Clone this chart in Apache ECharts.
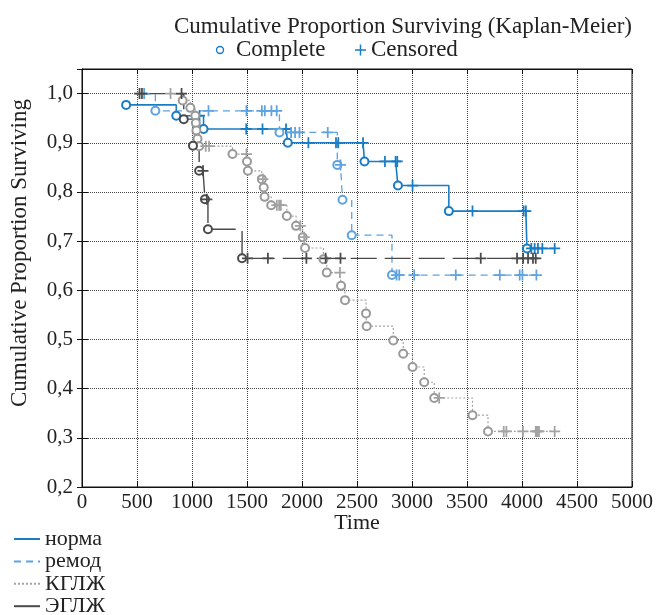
<!DOCTYPE html>
<html>
<head>
<meta charset="utf-8">
<script src="https://cdn.jsdelivr.net/npm/echarts@6/dist/echarts.min.js"></script>
<style>
  html, body { margin: 0; padding: 0; background: #fff; }
  #chart { width: 660px; height: 615px; }
</style>
</head>
<body>
<div id="chart"></div>
<script>
// [time, proportion surviving, 1 = complete (circle) / 0 = censored (+)]
var normaData = [
  [401, 0.977, 1], [857, 0.955, 1], [1068, 0.955, 0], [1105, 0.928, 1],
  [1493, 0.928, 0], [1641, 0.928, 0], [1855, 0.928, 0], [1871, 0.900, 1],
  [2058, 0.900, 0], [2309, 0.900, 0], [2330, 0.900, 0], [2555, 0.900, 0],
  [2568, 0.862, 1], [2754, 0.862, 0], [2851, 0.862, 0], [2866, 0.862, 0],
  [2872, 0.813, 1], [3005, 0.813, 0], [3335, 0.761, 1], [3550, 0.761, 0],
  [4015, 0.761, 0], [4035, 0.761, 0], [4045, 0.685, 1], [4085, 0.685, 0],
  [4115, 0.685, 0], [4145, 0.685, 0], [4185, 0.685, 0], [4297, 0.685, 0]
];
var remodData = [
  [565, 1.0, 0], [667, 0.965, 1], [1150, 0.965, 0], [1495, 0.965, 0],
  [1635, 0.965, 0], [1662, 0.965, 0], [1722, 0.965, 0], [1770, 0.965, 0],
  [1795, 0.921, 1], [1901, 0.921, 0], [1937, 0.921, 0], [1977, 0.921, 0],
  [2234, 0.921, 0], [2321, 0.855, 1], [2350, 0.855, 0], [2368, 0.784, 1],
  [2452, 0.712, 1], [2818, 0.631, 1], [2860, 0.631, 0], [2884, 0.631, 0],
  [3020, 0.631, 0], [3398, 0.631, 0], [3798, 0.631, 0], [3979, 0.631, 0],
  [4004, 0.631, 0], [4131, 0.631, 0]
];
var kgljData = [
  [805, 1.0, 0], [915, 0.986, 1], [985, 0.971, 1], [1030, 0.955, 1],
  [1035, 0.940, 1], [1040, 0.925, 1], [1050, 0.908, 1], [1065, 0.893, 1],
  [1125, 0.893, 0], [1155, 0.893, 0], [1368, 0.877, 1], [1495, 0.877, 0],
  [1500, 0.862, 1], [1508, 0.843, 1], [1635, 0.826, 1], [1645, 0.826, 0],
  [1652, 0.809, 1], [1660, 0.790, 1], [1720, 0.773, 1], [1771, 0.773, 0],
  [1792, 0.773, 0], [1808, 0.773, 0], [1862, 0.751, 1], [1946, 0.731, 1],
  [1985, 0.731, 0], [2007, 0.708, 1], [2020, 0.708, 0], [2028, 0.686, 1],
  [2195, 0.663, 1], [2225, 0.636, 1], [2345, 0.636, 0], [2355, 0.609, 1],
  [2391, 0.580, 1], [2582, 0.553, 1], [2588, 0.527, 1], [2830, 0.498, 1],
  [2920, 0.471, 1], [3005, 0.444, 1], [3111, 0.413, 1], [3202, 0.381, 1],
  [3247, 0.381, 0], [3550, 0.346, 1], [3691, 0.313, 1], [3834, 0.313, 0],
  [3858, 0.313, 0], [4009, 0.313, 0], [4125, 0.313, 0], [4135, 0.313, 0],
  [4145, 0.313, 0], [4155, 0.313, 0], [4297, 0.313, 0]
];
var egljData = [
  [523, 1.0, 0], [545, 1.0, 0], [905, 1.0, 0], [925, 0.948, 1],
  [1009, 0.894, 1], [1065, 0.843, 1], [1100, 0.843, 0], [1118, 0.785, 1],
  [1135, 0.785, 0], [1145, 0.724, 1], [1455, 0.665, 1], [1505, 0.665, 0],
  [1690, 0.665, 0], [2040, 0.665, 0], [2215, 0.665, 0], [2350, 0.665, 0],
  [3625, 0.665, 0], [3955, 0.665, 0], [4010, 0.665, 0], [4055, 0.665, 0],
  [4100, 0.665, 0], [4125, 0.665, 0]
];
var groupNames = ['норма', 'ремод', 'КГЛЖ', 'ЭГЛЖ'];
var xTicks = [0, 5000, 500];
var yTicks = [0.2, 1.05, 0.1];

var FONT = 'Liberation Serif';
var plusPath = 'path://M4.2,0H5.8V4.2H10V5.8H5.8V10H4.2V5.8H0V4.2H4.2Z';

function makeSeries(name, rows, color, lineType, width, circleColor) {
  return {
    name: name,
    type: 'line',
    step: 'end',
    symbol: 'none',
    color: color,
    lineStyle: { color: color, width: width, type: lineType },
    data: rows.map(function (r) {
      if (r[2] == 1) {
        return {
          value: [r[0], r[1]], symbol: 'emptyCircle', symbolSize: 8,
          itemStyle: { color: circleColor, borderColor: circleColor, borderWidth: 1.3 }
        };
      }
      return {
        value: [r[0], r[1]], symbol: plusPath, symbolSize: 11,
        itemStyle: { color: color, borderWidth: 0 }
      };
    }),
    animation: false,
    z: 3
  };
}

function decimalComma(v) {
  if (v > 1.0001) return '';
  return v.toFixed(1).replace('.', ',');
}

var chart = echarts.init(document.getElementById('chart'));
var option = {
  backgroundColor: '#fff',
  grid: { left: 82, right: 28, top: 69, bottom: 128, show: true, borderColor: '#111', borderWidth: 1 },
  legend: {
    orient: 'vertical', left: 13, top: 528, height: 90, padding: 0,
    itemWidth: 26, itemHeight: 10, itemGap: 0.4,
    itemStyle: { opacity: 0 },
    textStyle: { fontFamily: FONT, fontSize: 22, lineHeight: 22, color: '#222' },
    data: groupNames
  },
  xAxis: [{
    type: 'value', min: xTicks[0], max: xTicks[1], interval: xTicks[2],
    axisLine: { show: true, lineStyle: { color: '#111', width: 1 } },
    axisTick: { show: true, inside: true, length: 6, lineStyle: { color: '#111' } },
    axisLabel: { fontFamily: FONT, fontSize: 21, color: '#222', margin: 5, formatter: function (v) { return String(v); } },
    splitLine: { show: true, lineStyle: { color: '#444', type: 'dotted', width: 1 } }
  }, {
    type: 'value', position: 'top', min: xTicks[0], max: xTicks[1], interval: xTicks[2],
    axisLine: { show: true, lineStyle: { color: '#111' } },
    axisTick: { show: true, inside: true, length: 5, lineStyle: { color: '#111' } },
    axisLabel: { show: false }, splitLine: { show: false }
  }],
  yAxis: [{
    type: 'value', min: yTicks[0], max: yTicks[1], interval: yTicks[2],
    axisLine: { show: true, lineStyle: { color: '#111', width: 1 } },
    axisTick: { show: true, inside: true, length: 6, lineStyle: { color: '#111' } },
    axisLabel: { fontFamily: FONT, fontSize: 21, color: '#222', margin: 9, formatter: decimalComma, showMaxLabel: false },
    splitLine: { show: true, lineStyle: { color: '#444', type: 'dotted', width: 1 } }
  }, {
    type: 'value', position: 'right', min: yTicks[0], max: yTicks[1], interval: yTicks[2],
    axisLine: { show: true, lineStyle: { color: '#111' } },
    axisTick: { show: true, inside: true, length: 5, lineStyle: { color: '#111' } },
    axisLabel: { show: false }, splitLine: { show: false }
  }],
  graphic: [
    { type: 'text', x: 403, y: 27, style: { text: 'Cumulative Proportion Surviving (Kaplan-Meier)', fontFamily: FONT, fontSize: 23, fill: '#222', align: 'center', verticalAlign: 'middle' } },
    { type: 'circle', shape: { cx: 220, cy: 50, r: 3.5 }, style: { fill: 'none', stroke: '#1a7cc4', lineWidth: 1.4 } },
    { type: 'text', x: 236, y: 50, style: { text: 'Complete', fontFamily: FONT, fontSize: 23, fill: '#222', verticalAlign: 'middle' } },
    { type: 'line', shape: { x1: 355, y1: 50, x2: 366, y2: 50 }, style: { stroke: '#1a7cc4', lineWidth: 1.5 } },
    { type: 'line', shape: { x1: 360.5, y1: 44.5, x2: 360.5, y2: 55.5 }, style: { stroke: '#1a7cc4', lineWidth: 1.5 } },
    { type: 'text', x: 371, y: 50, style: { text: 'Censored', fontFamily: FONT, fontSize: 23, fill: '#222', verticalAlign: 'middle' } },
    { type: 'text', x: 357, y: 523, style: { text: 'Time', fontFamily: FONT, fontSize: 22, fill: '#222', align: 'center', verticalAlign: 'middle' } },
    { type: 'text', x: 20, y: 253, rotation: Math.PI / 2, style: { text: 'Cumulative Proportion Surviving', fontFamily: FONT, fontSize: 23, fill: '#222', align: 'center', verticalAlign: 'middle' } }
  ],
  series: [
    makeSeries(groupNames[0], normaData, '#1a7cc4', 'solid', 1.6, '#1a7cc4'),
    makeSeries(groupNames[1], remodData, '#5ea2df', [7, 5], 1.3, '#5ea2df'),
    makeSeries(groupNames[2], kgljData, '#a3a3a3', [2, 2], 1.2, '#999999'),
    makeSeries(groupNames[3], egljData, '#4a4a4a', [26, 8], 1.4, '#4a4a4a')
  ]
};
chart.setOption(option);
</script>
</body>
</html>
